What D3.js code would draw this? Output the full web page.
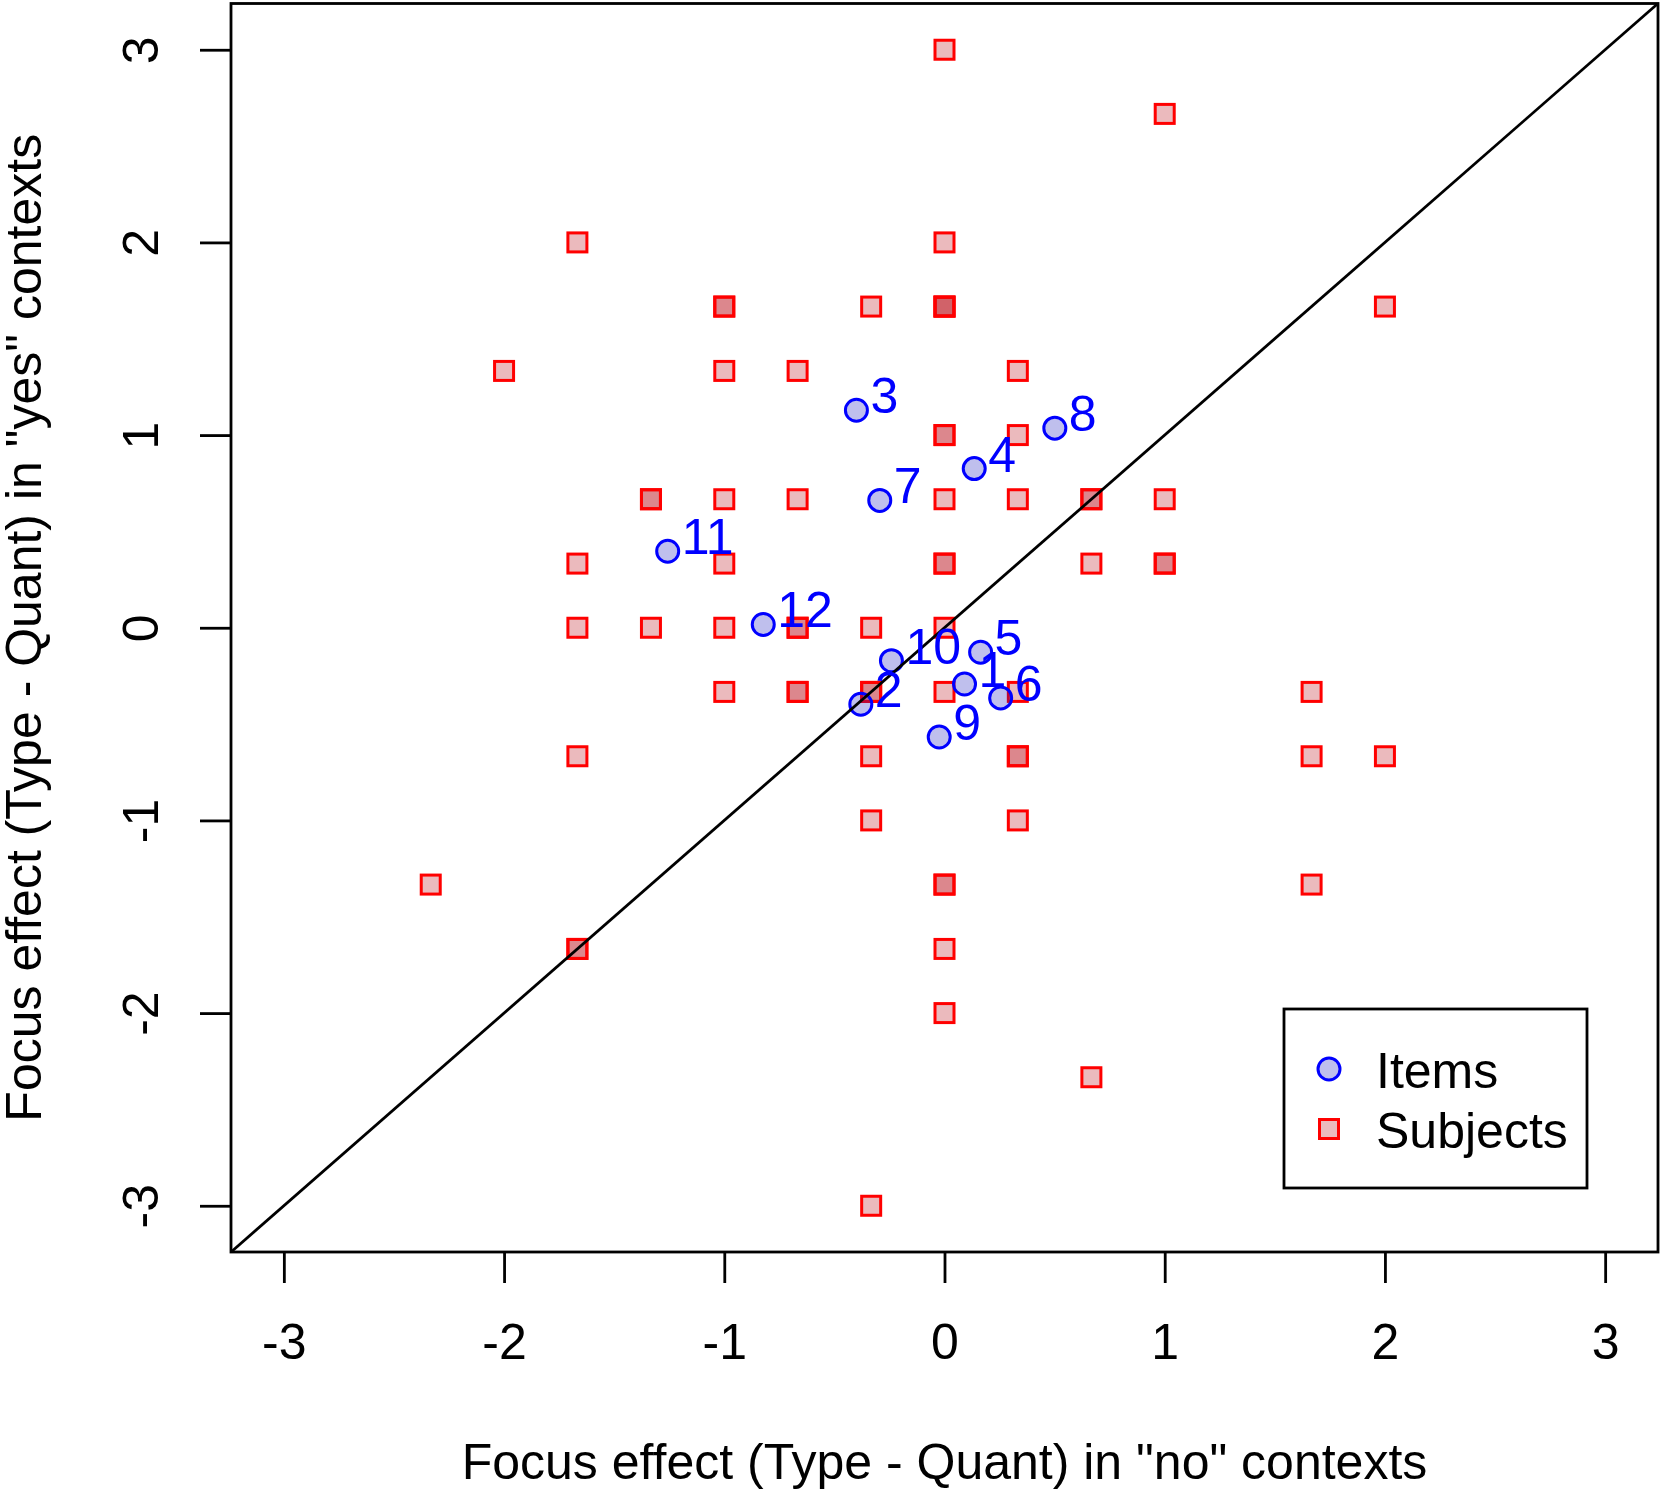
<!DOCTYPE html>
<html>
<head>
<meta charset="utf-8">
<script src="https://cdn.jsdelivr.net/npm/d3@7"></script>
<style>
  body { margin: 0; background: #fff; }
  svg text { font-family: "Liberation Sans", Arial, sans-serif; }
</style>
</head>
<body>
<svg id="viz" width="1664" height="1493"></svg>
<script>
// subjects (one entry per subject, repeated positions overlap)
var subjX = [0, 1, -1.667, 0, -1, -1, -0.333, 0, 0, 0, 2,
  -2, -1, -0.667, 0.333, 0, 0, 0.333,
  -1.333, -1.333, -1, -0.667, 0, 0.333, 0.667, 0.667, 1,
  -1.667, -1, 0, 0, 0.667, 1, 1,
  -1.667, -1.333, -1, -0.667, -0.667, -0.333, 0,
  -1, -0.667, -0.667, -0.333, -0.333, 0, 0.333, 1.667,
  -1.667, -0.333, 0.333, 0.333, 1.667, 2,
  -0.333, 0.333, -2.333, 0, 0, 1.667,
  -1.667, -1.667, 0, 0, 0.667, -0.333];
var subjY = [3, 2.667, 2, 2, 1.667, 1.667, 1.667, 1.667, 1.667, 1.667, 1.667,
  1.333, 1.333, 1.333, 1.333, 1, 1, 1,
  0.667, 0.667, 0.667, 0.667, 0.667, 0.667, 0.667, 0.667, 0.667,
  0.333, 0.333, 0.333, 0.333, 0.333, 0.333, 0.333,
  0, 0, 0, 0, 0, 0, 0,
  -0.333, -0.333, -0.333, -0.333, -0.333, -0.333, -0.333, -0.333,
  -0.667, -0.667, -0.667, -0.667, -0.667, -0.667,
  -1, -1, -1.333, -1.333, -1.333, -1.333,
  -1.667, -1.667, -1.667, -2, -2.333, -3];

// items
var itemLabels = ['1', '2', '3', '4', '5', '6', '7', '8', '9', '10', '11', '12'];
var itemX = [0.091, -0.38, -0.4, 0.135, 0.164, 0.255, -0.294, 0.501, -0.024, -0.241, -1.257, -0.823];
var itemY = [-0.292, -0.397, 1.129, 0.826, -0.127, -0.364, 0.661, 1.036, -0.567, -0.171, 0.397, 0.017];

var tickVals = [-3, -2, -1, 0, 1, 2, 3];
var legendLabels = ['Items', 'Subjects'];

var fontSize = 50;
var svg = d3.select('#viz');

var x = d3.scaleLinear().domain([-3.24, 3.24]).range([231, 1658]);
var y = d3.scaleLinear().domain([-3.24, 3.24]).range([1252, 3.5]);

var subjFill = 'rgba(180,0,10,0.27)';
var itemFill = 'rgba(20,20,190,0.27)';

svg.append('clipPath').attr('id', 'plotclip')
  .append('rect')
  .attr('x', x(-3.24)).attr('y', y(3.24))
  .attr('width', x(3.24) - x(-3.24))
  .attr('height', y(-3.24) - y(3.24));

// x axis
var xAxis = svg.append('g')
  .attr('transform', 'translate(0,' + y(-3.24) + ')')
  .call(d3.axisBottom(x).tickValues(tickVals).tickSize(31).tickPadding(40)
    .tickFormat(function (d) { return String(d); }));
xAxis.select('.domain').remove();
xAxis.selectAll('line').attr('stroke', '#000').attr('stroke-width', 2.8);
xAxis.selectAll('text').style('font-size', fontSize + 'px').attr('fill', '#000');

// y axis, labels parallel to the axis
var yAxis = svg.append('g')
  .attr('transform', 'translate(' + x(-3.24) + ',0)')
  .call(d3.axisLeft(y).tickValues(tickVals).tickSize(31)
    .tickFormat(function (d) { return String(d); }));
yAxis.select('.domain').remove();
yAxis.selectAll('line').attr('stroke', '#000').attr('stroke-width', 2.8);
yAxis.selectAll('text')
  .attr('x', null).attr('dy', null)
  .attr('transform', 'translate(-73,0) rotate(-90)')
  .attr('text-anchor', 'middle')
  .style('font-size', fontSize + 'px').attr('fill', '#000');

var plot = svg.append('g').attr('clip-path', 'url(#plotclip)');

// subjects
plot.selectAll('rect.subj')
  .data(subjX.map(function (d, i) { return { x: d, y: subjY[i] }; }))
  .enter()
  .append('rect')
  .attr('class', 'subj')
  .attr('x', function (d) { return x(d.x) - 9.5; })
  .attr('y', function (d) { return y(d.y) - 9.5; })
  .attr('width', 19)
  .attr('height', 19)
  .attr('fill', subjFill)
  .attr('stroke', '#ff0000')
  .attr('stroke-width', 3);

// items
var items = itemX.map(function (d, i) { return { x: d, y: itemY[i], lab: itemLabels[i] }; });
plot.selectAll('circle.item')
  .data(items)
  .enter()
  .append('circle')
  .attr('class', 'item')
  .attr('cx', function (d) { return x(d.x); })
  .attr('cy', function (d) { return y(d.y); })
  .attr('r', 11)
  .attr('fill', itemFill)
  .attr('stroke', '#0000ff')
  .attr('stroke-width', 3);

// identity line
plot.append('line')
  .attr('x1', x(-3.24)).attr('y1', y(-3.24))
  .attr('x2', x(3.24)).attr('y2', y(3.24))
  .attr('stroke', '#000')
  .attr('stroke-width', 2.8);

plot.selectAll('text.itemlab')
  .data(items)
  .enter()
  .append('text')
  .attr('class', 'itemlab')
  .attr('x', function (d) { return x(d.x) + 14; })
  .attr('y', function (d) { return y(d.y) + 3; })
  .attr('fill', '#0000ff')
  .style('font-size', fontSize + 'px')
  .text(function (d) { return d.lab; });

// box
svg.append('rect')
  .attr('x', x(-3.24)).attr('y', y(3.24))
  .attr('width', x(3.24) - x(-3.24))
  .attr('height', y(-3.24) - y(3.24))
  .attr('fill', 'none')
  .attr('stroke', '#000')
  .attr('stroke-width', 2.8);

// legend
var leg = svg.append('g');
leg.append('rect')
  .attr('x', 1284).attr('y', 1009)
  .attr('width', 303).attr('height', 179)
  .attr('fill', '#fff')
  .attr('stroke', '#000')
  .attr('stroke-width', 2.8);
leg.append('circle')
  .attr('cx', 1329).attr('cy', 1069).attr('r', 11)
  .attr('fill', itemFill).attr('stroke', '#0000ff').attr('stroke-width', 3);
leg.append('rect')
  .attr('x', 1329 - 9.5).attr('y', 1129 - 9.5).attr('width', 19).attr('height', 19)
  .attr('fill', subjFill).attr('stroke', '#ff0000').attr('stroke-width', 3);
leg.selectAll('text')
  .data(legendLabels)
  .enter()
  .append('text')
  .attr('x', 1376)
  .attr('y', function (d, i) { return 1088 + i * 60; })
  .style('font-size', fontSize + 'px')
  .text(function (d) { return d; });

// axis titles
svg.append('text')
  .attr('x', (x(-3.24) + x(3.24)) / 2)
  .attr('y', 1479)
  .attr('text-anchor', 'middle')
  .style('font-size', fontSize + 'px')
  .text('Focus effect (Type - Quant) in "no" contexts');

svg.append('text')
  .attr('transform', 'translate(41,' + (y(-3.24) + y(3.24)) / 2 + ') rotate(-90)')
  .attr('text-anchor', 'middle')
  .style('font-size', fontSize + 'px')
  .text('Focus effect (Type - Quant) in "yes" contexts');
</script>
</body>
</html>
